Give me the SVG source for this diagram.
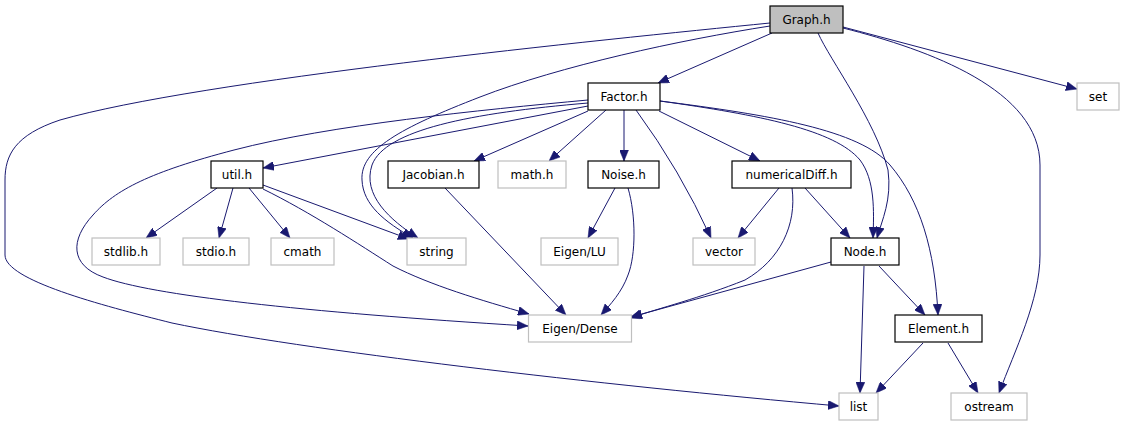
<svg xmlns="http://www.w3.org/2000/svg" width="1125" height="427" viewBox="0 0 1125 427">
<style>
.n rect{fill:#ffffff;stroke:#000000;stroke-width:1.2}
.x rect{fill:#ffffff;stroke:#bfbfbf;stroke-width:1.2}
.g rect{fill:#bfbfbf;stroke:#000000;stroke-width:1.2}
text{font-family:"DejaVu Sans","Liberation Sans",sans-serif;font-size:12px;fill:#000000;text-anchor:middle}
#edges path{fill:none;stroke:#191970;stroke-width:1;marker-end:url(#arr)}
</style>
<defs>
<marker id="arr" markerUnits="userSpaceOnUse" markerWidth="11" markerHeight="9" refX="11" refY="4.5" orient="auto">
<path d="M0,0 L11,4.5 L0,9 z" fill="#191970" stroke="#191970" stroke-width="0.5"/>
</marker>
</defs>
<rect width="1125" height="427" fill="#ffffff"/>
<g id="edges">
<path d="M772,33 L658,83"/>
<path d="M843,27 L1077,89"/>
<path d="M843,28 C930,50 1040,90 1040,165 L1040,255 C1040,300 1015,350 999,393"/>
<path d="M818,33 C830,60 875,120 888,170 C892,200 882,220 877,238"/>
<path d="M770,26 C680,40 560,66 480,97 C400,128 360,150 362,180 C363,205 385,222 413,238"/>
<path d="M770,23 C600,40 200,80 60,120 C15,135 5,155 5,180 L5,255 C5,280 100,305 172,323 C300,350 600,385 839,406"/>
<path d="M588,106 L263,168"/>
<path d="M588,100 C480,110 330,125 234,150 C150,172 115,190 93,215 C70,240 70,265 103,277 C150,295 300,312 528,326"/>
<path d="M588,103 C470,113 385,130 372,165 C362,195 390,220 418,238"/>
<path d="M588,111 L474,161"/>
<path d="M606,110 L549,161"/>
<path d="M624,110 L624,161"/>
<path d="M636,110 Q680,170 711,238"/>
<path d="M659,111 L760,161"/>
<path d="M660,101 C760,115 835,130 860,160 C875,180 874,210 873,238"/>
<path d="M660,101 C770,115 860,130 890,165 C920,200 935,250 938,315"/>
<path d="M779,188 L738,238"/>
<path d="M805,188 L850,238"/>
<path d="M792,188 C797,225 780,260 745,280 C700,298 660,308 630,318"/>
<path d="M831,262 L631,317"/>
<path d="M864,266 L860,393"/>
<path d="M879,266 L925,315"/>
<path d="M923,343 L876,393"/>
<path d="M948,343 L978,393"/>
<path d="M217,188 L146,238"/>
<path d="M233,188 L219,238"/>
<path d="M249,188 L290,238"/>
<path d="M263,185 L409,239"/>
<path d="M263,189 C310,212 360,245 393,266 C430,285 480,300 529,314"/>
<path d="M445,188 L566,315"/>
<path d="M615,188 L588,238"/>
<path d="M628,188 C636,215 636,255 628,275 C622,292 610,305 601,315"/>
</g>
<g id="graph_h" class="g"><rect x="770" y="6" width="73" height="27"/><text x="806.5" y="24">Graph.h</text></g>
<g id="factor_h" class="n"><rect x="588" y="83" width="72" height="27"/><text x="624" y="101">Factor.h</text></g>
<g id="set" class="x"><rect x="1077" y="83" width="42" height="27"/><text x="1098" y="101">set</text></g>
<g id="util_h" class="n"><rect x="211" y="161" width="52" height="27"/><text x="237" y="179">util.h</text></g>
<g id="jacobian_h" class="n"><rect x="388" y="161" width="91" height="27"/><text x="433.5" y="179">Jacobian.h</text></g>
<g id="math_h" class="x"><rect x="498" y="161" width="68" height="27"/><text x="532" y="179">math.h</text></g>
<g id="noise_h" class="n"><rect x="588" y="161" width="71" height="27"/><text x="623.5" y="179">Noise.h</text></g>
<g id="numericaldiff_h" class="n"><rect x="732" y="161" width="119" height="27"/><text x="791.5" y="179">numericalDiff.h</text></g>
<g id="stdlib_h" class="x"><rect x="92" y="238" width="68" height="27"/><text x="126" y="256">stdlib.h</text></g>
<g id="stdio_h" class="x"><rect x="183" y="238" width="66" height="27"/><text x="216" y="256">stdio.h</text></g>
<g id="cmath" class="x"><rect x="271" y="238" width="63" height="27"/><text x="302.5" y="256">cmath</text></g>
<g id="string" class="x"><rect x="407" y="238" width="59" height="27"/><text x="436.5" y="256">string</text></g>
<g id="eigen_lu" class="x"><rect x="541" y="238" width="77" height="27"/><text x="579.5" y="256">Eigen/LU</text></g>
<g id="vector" class="x"><rect x="693" y="238" width="62" height="27"/><text x="724" y="256">vector</text></g>
<g id="node_h" class="n"><rect x="831" y="238" width="68" height="27"/><text x="865" y="256">Node.h</text></g>
<g id="eigen_dense" class="x"><rect x="528.5" y="315" width="103" height="27"/><text x="580" y="333">Eigen/Dense</text></g>
<g id="element_h" class="n"><rect x="895" y="315" width="87" height="27"/><text x="938.5" y="333">Element.h</text></g>
<g id="list" class="x"><rect x="839" y="393" width="39" height="27"/><text x="858.5" y="411">list</text></g>
<g id="ostream" class="x"><rect x="951" y="393" width="76" height="27"/><text x="989" y="411">ostream</text></g>
</svg>
